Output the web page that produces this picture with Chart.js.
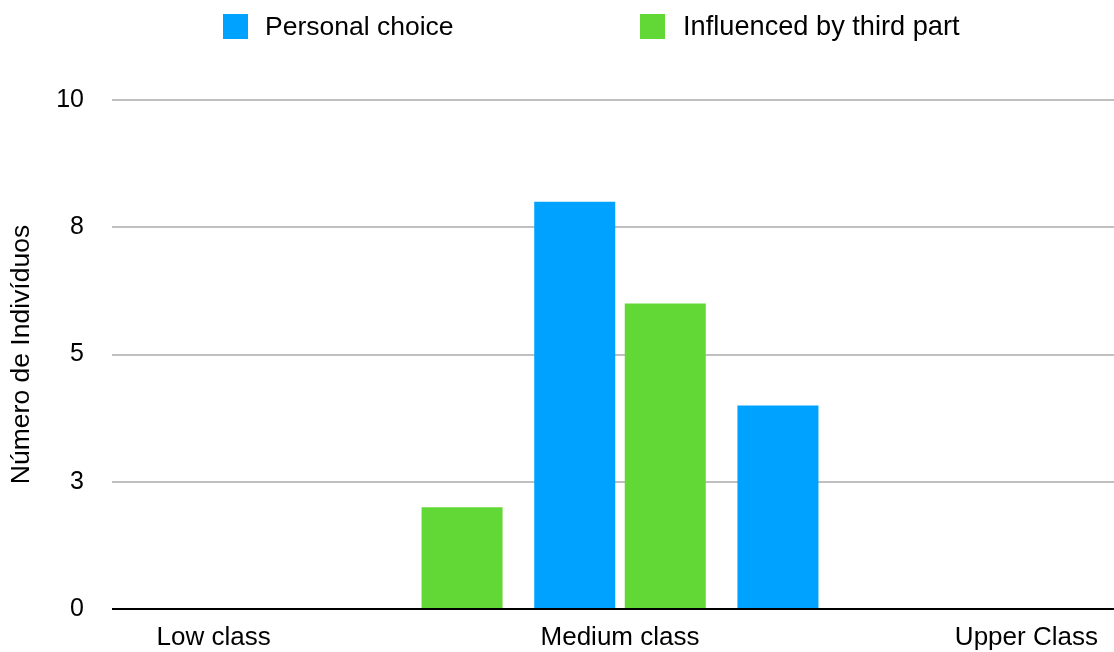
<!DOCTYPE html>
<html>
<head>
<meta charset="utf-8">
<script src="https://cdn.jsdelivr.net/npm/chart.js@4.4.1/dist/chart.umd.min.js"></script>
<style>
  html, body { margin: 0; padding: 0; background: #fff; overflow: hidden; width: 1114px; height: 652px; }
  #wrap { position: relative; width: 1128px; height: 652px; }
</style>
</head>
<body>
<div id="wrap"><canvas id="c"></canvas></div>
<script>
const categories = ['Low class', '', 'Medium class', '', 'Upper Class'];
const personalChoice = [0, 0, 8, 4, 0];
const influencedByThirdPart = [0, 2, 6, 0, 0];
const seriesNames = ['Personal choice', 'Influenced by third part'];
const yTickValues = [0, 2.5, 5, 7.5, 10];
const yTickLabels = ['0', '3', '5', '8', '10'];
const yAxisTitle = 'Número de Indivíduos';

const FONT = "'Liberation Sans', Arial, Helvetica, sans-serif";

const customLegend = {
  id: 'customLegend',
  afterDraw(chart) {
    const ctx = chart.ctx;
    const xs = [223, 640];
    const boxTop = 14, box = 25, textGap = 42;
    ctx.save();
    ctx.textBaseline = 'middle';
    ctx.textAlign = 'left';
    chart.data.datasets.forEach((ds, i) => {
      ctx.fillStyle = ds.backgroundColor;
      ctx.fillRect(xs[i], boxTop, box, box);
      ctx.fillStyle = '#000';
      ctx.font = (i === 0 ? '26.5px ' : '27.2px ') + FONT;
      ctx.fillText(ds.label, xs[i] + textGap + (i === 0 ? 0 : 1), boxTop + box / 2 + 1);
    });
    ctx.restore();
  }
};

new Chart(document.getElementById('c'), {
  type: 'bar',
  data: {
    labels: categories,
    datasets: [
      { label: seriesNames[0], data: personalChoice, backgroundColor: '#00A2FF', borderWidth: 0 },
      { label: seriesNames[1], data: influencedByThirdPart, backgroundColor: '#61D836', borderWidth: 0 }
    ]
  },
  options: {
    responsive: true,
    maintainAspectRatio: false,
    animation: false,
    categoryPercentage: 0.891,
    barPercentage: 0.895,
    layout: { padding: { top: 100, left: 0, right: 0, bottom: 0 } },
    plugins: {
      legend: { display: false },
      tooltip: { enabled: false }
    },
    scales: {
      x: {
        offset: true,
        grid: { display: false, drawTicks: false },
        border: { display: false },
        ticks: {
          autoSkip: false,
          maxRotation: 0,
          padding: 13,
          color: '#000',
          font: { family: FONT, size: 26 }
        },
        afterFit(scale) { scale.height = 42; }
      },
      y: {
        min: 0,
        max: 10,
        afterBuildTicks(scale) {
          scale.ticks = yTickValues.map(v => ({ value: v }));
        },
        grid: {
          drawTicks: false,
          tickLength: 0,
          lineWidth: 2,
          color: (c) => (c.tick && c.tick.value === 0) ? '#000000' : '#c0c0c0'
        },
        border: { display: false },
        ticks: {
          padding: 28,
          color: '#000',
          font: { family: FONT, size: 25 },
          callback: (value) => {
            const idx = yTickValues.indexOf(value);
            return idx >= 0 ? yTickLabels[idx] : '';
          }
        },
        title: {
          display: true,
          text: yAxisTitle,
          color: '#000',
          font: { family: FONT, size: 26.5 },
          padding: { top: 6, bottom: 0 }
        },
        afterFit(scale) { scale.width = 112; }
      }
    }
  },
  plugins: [customLegend]
});
</script>
</body>
</html>
